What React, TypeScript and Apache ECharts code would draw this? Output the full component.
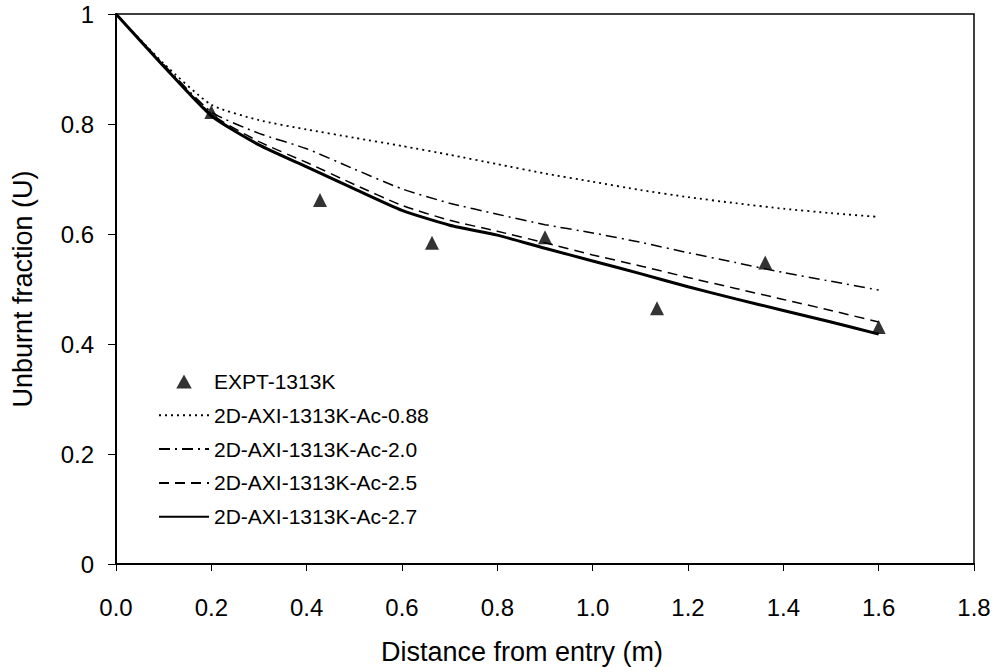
import React, { useEffect, useRef } from "react";
import * as echarts from "echarts";

const distance = [0, 0.1, 0.2, 0.3, 0.4, 0.5, 0.6, 0.7, 0.8, 0.9, 1.0, 1.1, 1.2, 1.3, 1.4, 1.5, 1.6];
const ac088 = [1.0, 0.91, 0.835, 0.807, 0.79, 0.775, 0.76, 0.744, 0.727, 0.71, 0.695, 0.68, 0.667, 0.656, 0.646, 0.638, 0.631];
const ac20 = [1.0, 0.908, 0.822, 0.783, 0.755, 0.718, 0.682, 0.656, 0.636, 0.617, 0.602, 0.585, 0.566, 0.548, 0.53, 0.514, 0.498];
const ac25 = [1.0, 0.905, 0.818, 0.768, 0.73, 0.69, 0.652, 0.625, 0.605, 0.584, 0.562, 0.542, 0.521, 0.501, 0.481, 0.461, 0.44];
const ac27 = [1.0, 0.905, 0.815, 0.762, 0.722, 0.682, 0.643, 0.616, 0.598, 0.574, 0.551, 0.528, 0.504, 0.482, 0.461, 0.44, 0.418];

const exptX = [0.2, 0.428, 0.663, 0.9, 1.135, 1.362, 1.6];
const exptY = [0.822, 0.662, 0.584, 0.594, 0.465, 0.548, 0.431];

const FONT = "'Liberation Sans', Arial, sans-serif";
const TRI = "path://M5,0 L10,9 L0,9 Z";

export default function App() {
  const ref = useRef<HTMLDivElement>(null);
  useEffect(() => {
    if (!ref.current) return;
    const chart = echarts.init(ref.current, undefined, { renderer: "svg" });
    const pair = (xs: number[], ys: number[]) => xs.map((x, i) => [x, ys[i]]);
    const lineSeries = (name: string, ys: number[], type: any, width: number) => ({
      name,
      type: "line",
      data: pair(distance, ys),
      symbol: "none",
      smooth: 0.2,
      lineStyle: { color: "#000", width, type },
      itemStyle: { color: "#000" },
      z: 2,
    });
    const hiddenSym = { color: "transparent", borderColor: "transparent", borderWidth: 0, opacity: 0 };
    chart.setOption({
      animation: false,
      backgroundColor: "#fff",
      textStyle: { fontFamily: FONT },
      grid: {
        left: 116,
        right: 27,
        top: 14,
        bottom: 108,
        show: true,
        borderColor: "#000",
        borderWidth: 1.5,
        backgroundColor: "transparent",
      },
      legend: {
        orient: "vertical",
        left: 153,
        top: 366,
        itemWidth: 50,
        itemHeight: 14,
        itemGap: 12.8,
        symbolKeepAspect: true,
        textStyle: { fontSize: 21, color: "#000", fontFamily: FONT },
        data: [
          { name: "EXPT-1313K", icon: TRI, itemStyle: { color: "#000" } },
          { name: "2D-AXI-1313K-Ac-0.88", itemStyle: hiddenSym },
          { name: "2D-AXI-1313K-Ac-2.0", itemStyle: hiddenSym },
          { name: "2D-AXI-1313K-Ac-2.5", itemStyle: hiddenSym },
          { name: "2D-AXI-1313K-Ac-2.7", itemStyle: hiddenSym },
        ],
      },
      xAxis: {
        type: "value",
        min: 0,
        max: 1.8,
        interval: 0.2,
        name: "Distance from entry (m)",
        nameLocation: "middle",
        nameGap: 74,
        nameTextStyle: { fontSize: 27, color: "#000", fontFamily: FONT, padding: [0, 46, 0, 0] },
        axisLine: { show: true, onZero: false, lineStyle: { color: "#000", width: 2 } },
        axisTick: { show: true, length: 7, lineStyle: { color: "#000", width: 1 } },
        axisLabel: {
          fontSize: 24,
          color: "#000",
          margin: 31,
          fontFamily: FONT,
          formatter: (v: number) => v.toFixed(1),
        },
        splitLine: { show: false },
      },
      yAxis: {
        type: "value",
        min: 0,
        max: 1,
        interval: 0.2,
        name: "Unburnt fraction (U)",
        nameLocation: "middle",
        nameGap: 80,
        nameTextStyle: { fontSize: 27, color: "#000", fontFamily: FONT },
        axisLine: { show: true, onZero: false, lineStyle: { color: "#000", width: 2 } },
        axisTick: { show: true, length: 8, lineStyle: { color: "#000", width: 1 } },
        axisLabel: {
          fontSize: 24,
          color: "#000",
          margin: 22,
          fontFamily: FONT,
          formatter: (v: number) => (v === 0 || v === 1 ? String(v) : v.toFixed(1)),
        },
        splitLine: { show: false },
      },
      series: [
        {
          name: "EXPT-1313K",
          type: "scatter",
          data: pair(exptX, exptY),
          symbol: "triangle",
          symbolSize: 14,
          symbolKeepAspect: true,
          itemStyle: { color: "#000" },
          z: 3,
        },
        lineSeries("2D-AXI-1313K-Ac-0.88", ac088, [2, 4], 1.8),
        lineSeries("2D-AXI-1313K-Ac-2.0", ac20, [11, 5, 2, 5], 1.5),
        lineSeries("2D-AXI-1313K-Ac-2.5", ac25, [10, 6], 1.5),
        lineSeries("2D-AXI-1313K-Ac-2.7", ac27, "solid", 3),
      ],
    });
    return () => chart.dispose();
  }, []);
  return <div ref={ref} style={{ width: 1001, height: 672, position: "absolute", left: 0, top: 0 }} />;
}
